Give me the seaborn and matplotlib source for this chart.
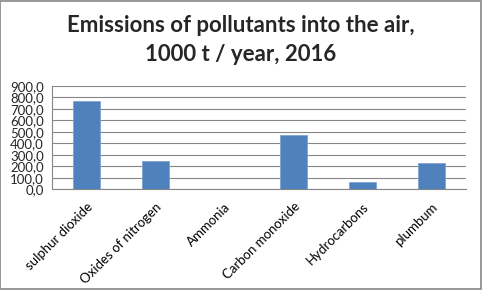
import matplotlib
matplotlib.use("Agg")
import matplotlib.pyplot as plt
import seaborn as sns
import pandas as pd
from matplotlib.ticker import FuncFormatter, FixedLocator
from matplotlib.patches import Rectangle

categories = ["sulphur dioxide", "Oxides of nitrogen", "Ammonia",
              "Carbon monoxide", "Hydrocarbons", "plumbum"]
values = [770.0, 246.0, 0.0, 472.0, 63.0, 226.0]
yticks = [0, 100, 200, 300, 400, 500, 600, 700, 800, 900]
title = "Emissions of pollutants into the air,\n1000 t / year, 2016"

sns.set_style("white")
plt.rcParams['font.family'] = ['Lato', 'DejaVu Sans']

df = pd.DataFrame({"cat": categories, "val": values})

fig = plt.figure(figsize=(4.82, 2.90), dpi=100)
fig.patch.set_facecolor("white")
fig.patches.append(Rectangle((0.001, 0.002), 0.997, 0.995, transform=fig.transFigure,
                             fill=False, edgecolor="#868686", linewidth=1.2))
ax = fig.add_axes([0.1079, 0.347, 0.859, 0.3575])

sns.barplot(data=df, x="cat", y="val", color="#4F81BD", width=0.39,
            saturation=1, ax=ax, edgecolor="#7FA3D3", linewidth=0.6, zorder=3)

ax.set_ylim(0, 900)
ax.set_xlim(-0.5, len(categories) - 0.5)
ax.yaxis.set_major_locator(FixedLocator(yticks))
ax.yaxis.set_major_formatter(FuncFormatter(lambda v, p: f"{v:.1f}".replace(".", ",")))
ax.grid(axis="y", color="#868686", linewidth=0.8, zorder=0)
ax.set_axisbelow(True)

for s in ["top", "right"]:
    ax.spines[s].set_visible(False)
ax.spines["left"].set_color("#868686")
ax.spines["bottom"].set_color("#868686")

ax.set_xlabel("")
ax.set_ylabel("")
ax.set_xticks(range(len(categories)))
ax.set_xticklabels(categories, rotation=45, ha="right", rotation_mode="anchor",
                   fontsize=9.5, color="black")
ax.set_xticks([i - 0.5 for i in range(len(categories) + 1)], minor=True)
ax.tick_params(axis="x", which="major", length=0, pad=8)
ax.tick_params(axis="x", which="minor", length=4, color="#868686", width=0.8, direction="out")
ax.tick_params(axis="y", which="major", length=4, color="#868686", width=0.8,
               direction="out", labelsize=9.5, pad=2)

fig.text(0.5, 0.862, title, ha="center", va="center", fontsize=16,
         fontweight="bold", linespacing=1.45)

fig.savefig("out.png", dpi=100)
